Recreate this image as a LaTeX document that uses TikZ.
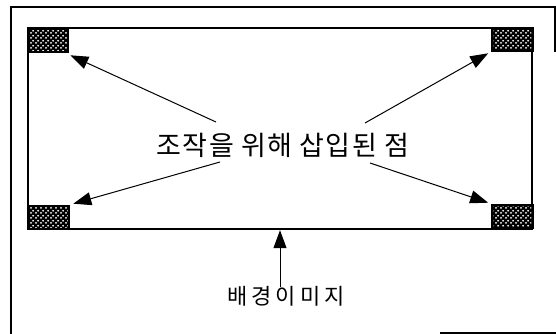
\documentclass[tikz,border=0pt]{standalone}
\usepackage{fontspec}
\newfontfamily\krwide[LetterSpace=5]{Noto Sans CJK KR}
\newfontfamily\krwider[LetterSpace=18]{Noto Sans CJK KR}
\usetikzlibrary{arrows.meta,patterns}
\pgfdeclarepatternformonly{wdots}{\pgfpointorigin}{\pgfpoint{5pt}{5pt}}{\pgfpoint{5pt}{5pt}}{
  \pgfpathcircle{\pgfpoint{1.25pt}{1.25pt}}{1.15pt}
  \pgfpathcircle{\pgfpoint{3.75pt}{3.75pt}}{1.15pt}
  \pgfusepath{fill}}
\tikzset{
  frameline/.style={line width=1.1pt},
  board/.style={draw, line width=2.4pt},
  marker/.style={draw, line width=2.6pt, fill=black, inner sep=0pt,
    minimum width=40pt, minimum height=23pt, anchor=center},
  pointer/.style={line width=1pt, -{Triangle[length=18pt,width=13pt]}},
}
\begin{document}
\begin{tikzpicture}[x=1pt,y=-1pt]
\useasboundingbox (0,0) rectangle (556,334);
% outer scanned frame
\draw[frameline] (11,334) -- (11,7) -- (556,7);
\draw[frameline] (555,7) -- (555,52);
\draw[frameline] (440,333) -- (556,333);
% background image board
\node[board, inner sep=0pt, minimum width=504pt, minimum height=201pt] (bg) at (280,128.5) {};
% markers
\node[marker] (tl) at (48,40.5) {};
\node[marker] (tr) at (512.5,39.5) {};
\node[marker] (bl) at (49,217.5) {};
\node[marker] (br) at (512.5,216.5) {};
\foreach \m in {tl,tr,bl,br}{
  \fill[pattern=wdots, pattern color=white]
    ([shift={(2.5pt,2.5pt)}]\m.south west) rectangle ([shift={(-2.5pt,-2.5pt)}]\m.north east);
}
% labels
\node[inner sep=0pt, font=\krwide\fontsize{27}{27}\selectfont] (pts) at (283,145) {조작을 위해 삽입된 점};
\node[inner sep=0pt, font=\krwider\fontsize{22}{22}\selectfont] (img) at (286,296) {배경이미지};
% connector start points
\coordinate (s1) at (216,122);
\coordinate (s2) at (365,123);
\coordinate (s3) at (220,162);
\coordinate (s4) at (370,163);
\coordinate (s5) at (280,287);
\draw[pointer] (s1) -- ([shift={(1pt,-2pt)}]tl.south east);
\draw[pointer] (s2) -- ([shift={(-3pt,-1pt)}]tr.south west);
\draw[pointer] (s3) -- ([shift={(3pt,1pt)}]bl.north east);
\draw[pointer] (s4) -- ([shift={(-3pt,1pt)}]br.north west);
\draw[pointer] (s5) -- (s5 |- bg.south);
\end{tikzpicture}
\end{document}
